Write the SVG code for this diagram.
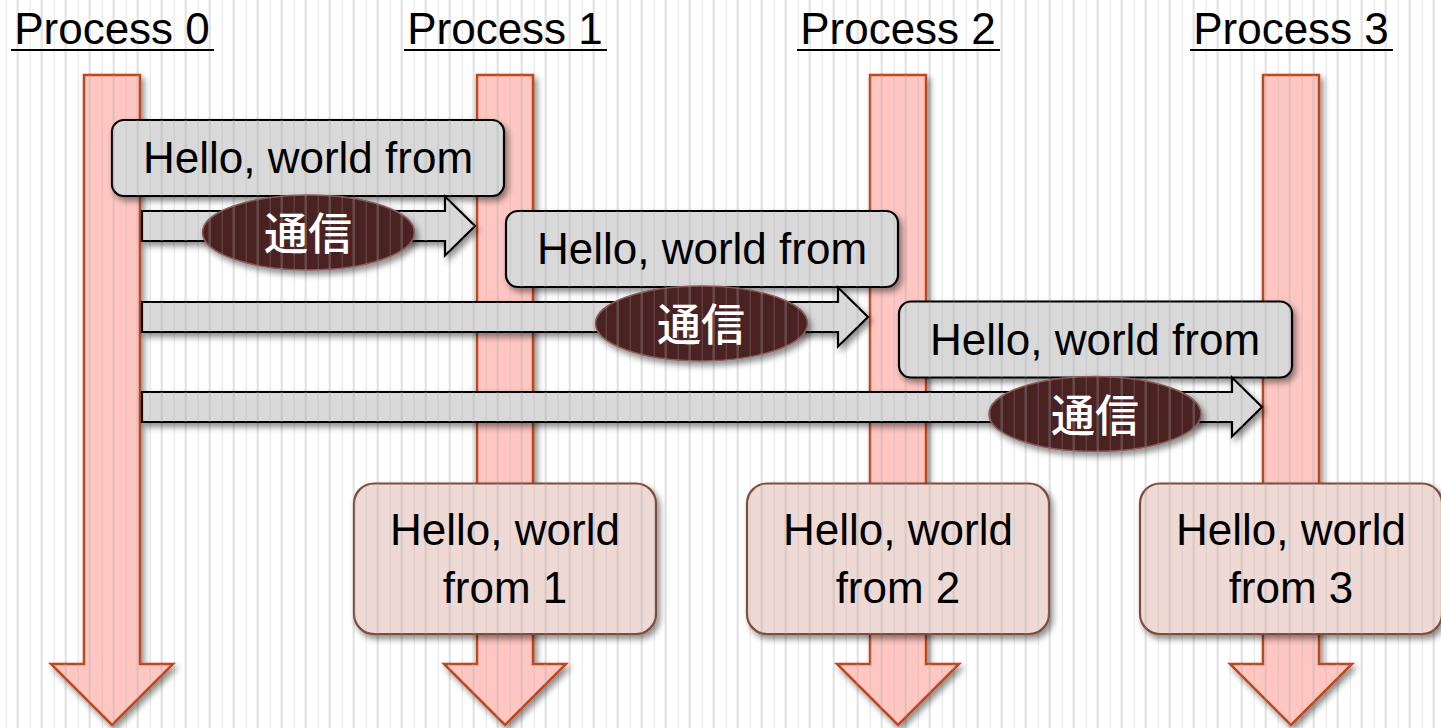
<svg xmlns="http://www.w3.org/2000/svg" width="1441" height="728" viewBox="0 0 1441 728">
  <defs>
    <pattern id="stripes" patternUnits="userSpaceOnUse" x="0" y="0" width="24" height="10">
      <rect x="5.6" y="0" width="1.4" height="10" fill="#aaaaaa" fill-opacity="0.22"/>
      <rect x="16.5" y="0" width="2.4" height="10" fill="#aaaaaa" fill-opacity="0.3"/>
    </pattern>
    <filter id="shadow" x="-10%" y="-10%" width="130%" height="130%">
      <feDropShadow dx="3" dy="4" stdDeviation="3" flood-color="#000" flood-opacity="0.45"/>
    </filter>
    <style>
      .title { font-family: "Liberation Sans", Arial, sans-serif; font-size: 44px; fill: #000; text-anchor: middle; }
      .underline { stroke: #000; stroke-width: 2; }
      .lane { fill: #ffc6c2; stroke: #c0461d; stroke-width: 2.5; stroke-linejoin: miter; filter: url(#shadow); }
      .msg { fill: #d9d9d9; stroke: #000; stroke-width: 2.2; filter: url(#shadow); }
      .msgtext { font-family: "Liberation Sans", Arial, sans-serif; font-size: 44px; fill: #000; text-anchor: middle; }
      .arrow { fill: #d9d9d9; stroke: #000; stroke-width: 2.2; stroke-linejoin: miter; filter: url(#shadow); }
      .comm { fill: #4c2424; stroke: #8a5a58; stroke-width: 1.5; filter: url(#shadow); }
      .commtext { font-family: "Noto Sans CJK JP", "Noto Sans CJK SC", sans-serif; font-size: 44px; font-weight: 500; fill: #fff; text-anchor: middle; }
      .result { fill: #eed9d5; stroke: #7f4c3e; stroke-width: 2.2; filter: url(#shadow); }
      .ov { fill: url(#stripes); stroke: none; }
    </style>
  </defs>

  <!-- background -->
  <rect x="0" y="0" width="1441" height="728" fill="#ffffff"/>
  <rect x="0" y="0" width="1441" height="728" class="ov"/>

  <!-- process lanes -->
  <g id="process0">
    <path class="lane" d="M84,75 H140 V664 H173 L112,725 L51,664 H84 Z"/>
    <path class="ov" d="M84,75 H140 V664 H173 L112,725 L51,664 H84 Z"/>
    <text class="title" x="112" y="44">Process 0</text>
    <line class="underline" x1="11" y1="50" x2="214" y2="50"/>
  </g>
  <g id="process1">
    <path class="lane" d="M477,75 H533 V664 H566 L505,725 L444,664 H477 Z"/>
    <path class="ov" d="M477,75 H533 V664 H566 L505,725 L444,664 H477 Z"/>
    <text class="title" x="505" y="44">Process 1</text>
    <line class="underline" x1="404" y1="50" x2="607" y2="50"/>
  </g>
  <g id="process2">
    <path class="lane" d="M870,75 H926 V664 H959 L898,725 L837,664 H870 Z"/>
    <path class="ov" d="M870,75 H926 V664 H959 L898,725 L837,664 H870 Z"/>
    <text class="title" x="898" y="44">Process 2</text>
    <line class="underline" x1="797" y1="50" x2="1000" y2="50"/>
  </g>
  <g id="process3">
    <path class="lane" d="M1263,75 H1319 V664 H1352 L1291,725 L1230,664 H1263 Z"/>
    <path class="ov" d="M1263,75 H1319 V664 H1352 L1291,725 L1230,664 H1263 Z"/>
    <text class="title" x="1291" y="44">Process 3</text>
    <line class="underline" x1="1190" y1="50" x2="1393" y2="50"/>
  </g>

  <!-- message boxes -->
  <g id="msg1">
    <rect class="msg" x="112" y="120" width="392" height="76" rx="12"/>
    <rect class="ov" x="112" y="120" width="392" height="76" rx="12"/>
    <text class="msgtext" x="308" y="173">Hello, world from</text>
  </g>
  <g id="msg2">
    <rect class="msg" x="506" y="211" width="392" height="76" rx="12"/>
    <rect class="ov" x="506" y="211" width="392" height="76" rx="12"/>
    <text class="msgtext" x="702" y="264">Hello, world from</text>
  </g>
  <g id="msg3">
    <rect class="msg" x="899" y="301.5" width="393" height="76" rx="12"/>
    <rect class="ov" x="899" y="301.5" width="393" height="76" rx="12"/>
    <text class="msgtext" x="1095" y="355">Hello, world from</text>
  </g>

  <!-- connectors -->
  <g id="connectors">
    <g id="comm1">
      <path class="arrow" d="M142,211 H445 V196.5 L475,226 L445,255.5 V241 H142 Z"/>
      <path class="ov" d="M142,211 H445 V196.5 L475,226 L445,255.5 V241 H142 Z"/>
      <ellipse class="comm" cx="308.5" cy="232.5" rx="106" ry="37.5"/>
      <ellipse class="ov" cx="308.5" cy="232.5" rx="106" ry="37.5"/>
      <text class="commtext" x="308" y="250">通信</text>
    </g>
    <g id="comm2">
      <path class="arrow" d="M142,302 H838 V287.5 L868,317 L838,346.5 V332 H142 Z"/>
      <path class="ov" d="M142,302 H838 V287.5 L868,317 L838,346.5 V332 H142 Z"/>
      <ellipse class="comm" cx="701.5" cy="323.5" rx="106" ry="37.5"/>
      <ellipse class="ov" cx="701.5" cy="323.5" rx="106" ry="37.5"/>
      <text class="commtext" x="701" y="341">通信</text>
    </g>
    <g id="comm3">
      <path class="arrow" d="M142,392 H1232 V377.5 L1262,407 L1232,436.5 V422 H142 Z"/>
      <path class="ov" d="M142,392 H1232 V377.5 L1262,407 L1232,436.5 V422 H142 Z"/>
      <ellipse class="comm" cx="1095" cy="414" rx="106" ry="37.5"/>
      <ellipse class="ov" cx="1095" cy="414" rx="106" ry="37.5"/>
      <text class="commtext" x="1095" y="431.5">通信</text>
    </g>
  </g>

  <!-- results -->
  <g id="result1">
    <rect class="result" x="354" y="483.5" width="302" height="150.5" rx="20"/>
    <rect class="ov" x="354" y="483.5" width="302" height="150.5" rx="20"/>
    <text class="msgtext" x="505" y="545">Hello, world</text>
    <text class="msgtext" x="505" y="603">from 1</text>
  </g>
  <g id="result2">
    <rect class="result" x="747" y="483.5" width="302" height="150.5" rx="20"/>
    <rect class="ov" x="747" y="483.5" width="302" height="150.5" rx="20"/>
    <text class="msgtext" x="898" y="545">Hello, world</text>
    <text class="msgtext" x="898" y="603">from 2</text>
  </g>
  <g id="result3">
    <rect class="result" x="1140" y="483.5" width="302" height="150.5" rx="20"/>
    <rect class="ov" x="1140" y="483.5" width="302" height="150.5" rx="20"/>
    <text class="msgtext" x="1291" y="545">Hello, world</text>
    <text class="msgtext" x="1291" y="603">from 3</text>
  </g>
</svg>
